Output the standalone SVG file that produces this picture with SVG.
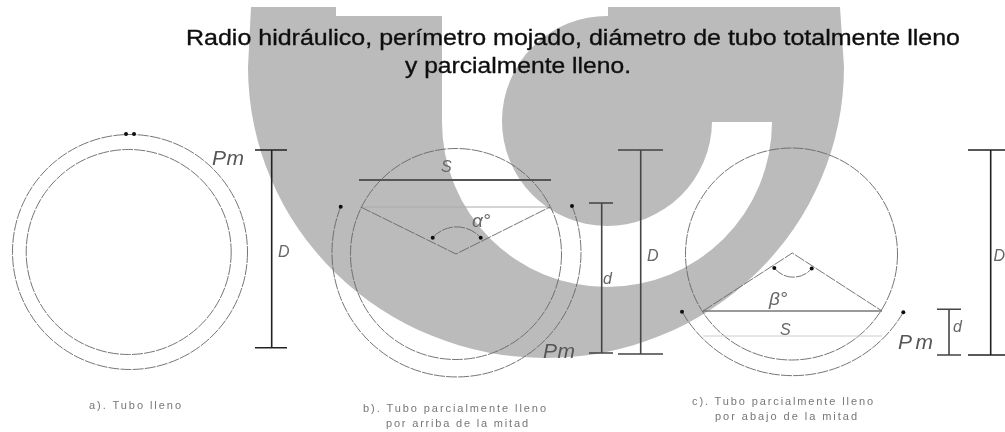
<svg xmlns="http://www.w3.org/2000/svg" width="1005" height="432" viewBox="0 0 1005 432">
<style>
text{font-family:"Liberation Sans",Arial,sans-serif}
.t{font-size:22.5px;fill:#111;stroke:#111;stroke-width:.35}
.c{font-size:11px;fill:#777}
.pm{font-size:21px;font-style:italic;fill:#555}
.l{font-size:16px;font-style:italic;fill:#666}
.g{font-size:19px;font-style:italic;fill:#666}
.th{fill:none;stroke:#666;stroke-width:.9;stroke-dasharray:11 1.2}
.dim{fill:none;stroke:#222;stroke-width:1.6}
.dimb{fill:none;stroke:#444;stroke-width:1.6}
.dot{fill:#111}
</style>
<defs><filter id="soft" x="0" y="0" width="100%" height="100%"><feGaussianBlur stdDeviation="0.55"/></filter></defs>
<rect width="1005" height="432" fill="#fff"/>
<g filter="url(#soft)">
<path id="watermark" fill="#bbb" d="M251,7H336V16H442V122A165,165 0 0 0 772,122H712A105,105 0 1 1 608,16V7H840L844,67A298,291 0 0 1 248,67Z"/>
<g id="title">
<text class="t" x="186" y="45" textLength="774" lengthAdjust="spacingAndGlyphs">Radio hidráulico, perímetro mojado, diámetro de tubo totalmente lleno</text>
<text class="t" x="405" y="73" textLength="226" lengthAdjust="spacingAndGlyphs">y parcialmente lleno.</text>
</g>
<g id="tubo-a">
<circle class="th" cx="130" cy="252" r="117.5"/>
<circle class="th" cx="128.7" cy="252" r="102.5"/>
<circle class="dot" cx="126" cy="134" r="2"/><circle class="dot" cx="134" cy="134" r="2"/>
<path class="dim" d="M255,150H287M271.7,150V347.7M255,347.7H287"/>
<text class="pm" x="212" y="165" textLength="32">Pm</text>
<text class="l" x="278" y="257">D</text>
<text class="c" x="89" y="409" textLength="92">a). Tubo lleno</text>
</g>
<g id="tubo-b">
<circle class="th" cx="456" cy="254" r="105.5"/>
<path class="th" d="M340.7,206.7A124.5,124.5 0 1 0 572,206"/>
<path d="M360.7,207H550" fill="none" stroke="#aaa" stroke-width="1"/>
<path class="th" d="M360.7,207L456,254L550,207"/>
<path class="th" d="M432.7,237.7A32,32 0 0 1 480.7,237.7"/>
<circle class="dot" cx="340.7" cy="206.7" r="2"/><circle class="dot" cx="572" cy="206" r="2"/>
<circle class="dot" cx="432.7" cy="237.7" r="2"/><circle class="dot" cx="480.7" cy="237.7" r="2"/>
<path d="M359,180H551" fill="none" stroke="#555" stroke-width="2"/>
<path class="dimb" d="M589,203H613M601.7,203V353M589,353H613"/>
<path class="dimb" d="M618,150H663M640.7,150V354M618,354H663"/>
<text class="l" x="441" y="172">S</text>
<text class="g" x="472" y="227">α°</text>
<text class="l" x="603" y="284">d</text>
<text class="l" x="647" y="261">D</text>
<text class="pm" x="543" y="358" textLength="32">Pm</text>
<text class="c" x="363" y="412" textLength="183">b). Tubo parcialmente lleno</text>
<text class="c" x="386" y="427" textLength="142">por arriba de la mitad</text>
</g>
<g id="tubo-c">
<circle class="th" cx="791.5" cy="254" r="106"/>
<path class="th" d="M682,311.7A128,128 0 0 0 903.3,312.3"/>
<path d="M703,311H882" fill="none" stroke="#777" stroke-width="1.4"/>
<path d="M703,336H882" fill="none" stroke="#ccc" stroke-width="1"/>
<path class="th" d="M703,311L792.3,253L882,311"/>
<path class="th" d="M774.3,268A24,24 0 0 0 811.7,268.5"/>
<circle class="dot" cx="682" cy="311.7" r="2"/><circle class="dot" cx="903.3" cy="312.3" r="2"/>
<circle class="dot" cx="774.3" cy="268" r="2"/><circle class="dot" cx="811.7" cy="268.5" r="2"/>
<path class="dimb" d="M937,309.3H961M949,309.3V355M937,355H961"/>
<path class="dim" d="M968,150H1005M990.7,150V355M968,355H1005"/>
<text class="g" x="769" y="305">β°</text>
<text class="l" x="780" y="335">S</text>
<text class="l" x="953" y="332">d</text>
<text class="l" x="993.5" y="261" font-size="14">D</text>
<text class="pm" x="898" y="349" textLength="35">Pm</text>
<text class="c" x="692" y="405" textLength="181">c). Tubo parcialmente lleno</text>
<text class="c" x="715" y="420" textLength="142">por abajo de la mitad</text>
</g>
</g>
</svg>
